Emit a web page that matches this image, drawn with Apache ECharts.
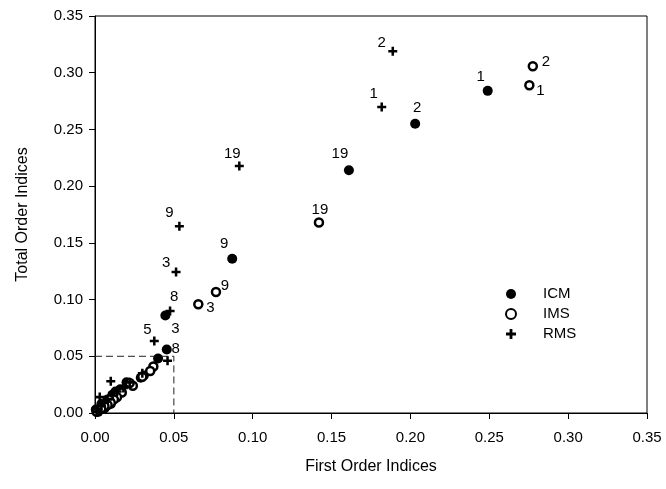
<!DOCTYPE html>
<html>
<head>
<meta charset="utf-8">
<script src="https://cdn.jsdelivr.net/npm/echarts@6/dist/echarts.min.js"></script>
<style>
  html, body { margin: 0; padding: 0; background: #fff; }
  #chart { width: 666px; height: 489px; }
</style>
</head>
<body>
<div id="chart"></div>
<script>
// Sensitivity indices per parameter: first order (x) vs total order (y).
// Parameter ids are given for the labelled points; '' for unlabelled ones.
const icmFirst = [0.249, 0.203, 0.0446, 0.0455, 0.087, 0.161, 0.040, 0.031, 0.029, 0.020, 0.016, 0.013, 0.011, 0.010, 0.008, 0.006, 0.004, 0.002, 0.0005];
const icmTotal = [0.284, 0.255, 0.086, 0.056, 0.136, 0.214, 0.048, 0.033, 0.031, 0.027, 0.021, 0.019, 0.016, 0.008, 0.012, 0.004, 0.008, 0.001, 0.003];
const icmIds   = ['1', '2', '3', '8', '9', '19', '', '', '', '', '', '', '', '', '', '', '', '', ''];

const imsFirst = [0.2754, 0.2776, 0.0655, 0.0767, 0.142, 0.037, 0.035, 0.030, 0.024, 0.022, 0.017, 0.014, 0.012, 0.009, 0.010, 0.008, 0.006, 0.004, 0.001];
const imsTotal = [0.289, 0.3057, 0.0959, 0.1067, 0.168, 0.041, 0.037, 0.032, 0.024, 0.0265, 0.018, 0.014, 0.012, 0.012, 0.009, 0.007, 0.006, 0.004, 0.001];
const imsIds   = ['1', '2', '3', '9', '19', '', '', '', '', '', '', '', '', '', '', '', '', '', ''];

const rmsFirst = [0.1818, 0.1888, 0.0514, 0.0376, 0.0476, 0.0535, 0.0915, 0.046, 0.030, 0.010, 0.003, 0.022, 0.014, 0.018, 0.008, 0.006, 0.004, 0.002, 0.001];
const rmsTotal = [0.2698, 0.319, 0.1243, 0.0635, 0.0899, 0.1646, 0.2178, 0.046, 0.035, 0.028, 0.014, 0.027, 0.019, 0.022, 0.012, 0.009, 0.006, 0.003, 0.001];
const rmsIds   = ['1', '2', '3', '5', '8', '9', '19', '', '', '', '', '', '', '', '', '', '', '', ''];

const seriesNames = ['ICM', 'IMS', 'RMS'];
const xTicks = ['0.00', '0.05', '0.10', '0.15', '0.20', '0.25', '0.30', '0.35'];
const yTicks = ['0.00', '0.05', '0.10', '0.15', '0.20', '0.25', '0.30', '0.35'];
const zoomBox = 0.05; // extent of the dashed inset square

// Pixel offset of each point label from its marker centre.
const labelOffsets = {
  'ICM-1': [-7, -14], 'ICM-2': [2, -16], 'ICM-3': [10, 13], 'ICM-8': [9, -1],
  'ICM-9': [-8, -15], 'ICM-19': [-9, -16],
  'IMS-1': [11, 6], 'IMS-2': [13, -4], 'IMS-3': [12, 4], 'IMS-9': [9, -6],
  'IMS-19': [1, -13],
  'RMS-1': [-8, -13], 'RMS-2': [-11, -8], 'RMS-3': [-10, -9], 'RMS-5': [-7, -11],
  'RMS-8': [4, -14], 'RMS-9': [-10, -13], 'RMS-19': [-7, -12]
};

const FONT = 'Liberation Sans, Arial, sans-serif';
const PLUS = 'path://M3.6,0H6.4V3.6H10V6.4H6.4V10H3.6V6.4H0V3.6H3.6Z';

function buildData(name, xs, ys, ids) {
  return xs.map((x, i) => {
    const id = ids[i];
    const item = { value: [x, ys[i]] };
    if (id) {
      item.label = {
        show: true,
        formatter: id,
        position: 'inside',
        offset: labelOffsets[name + '-' + id] || [0, -12],
        color: '#000',
        textBorderWidth: 0,
        fontFamily: FONT,
        fontSize: 15
      };
    }
    return item;
  });
}

const chart = echarts.init(document.getElementById('chart'), null, { renderer: 'canvas' });

const axisCommon = {
  type: 'value',
  min: 0,
  max: 0.35,
  interval: 0.05,
  splitLine: { show: false },
  axisLine: { show: true, lineStyle: { color: '#000', width: 1 } },
  axisTick: { show: true, inside: false, length: 6, lineStyle: { color: '#000', width: 1 } },
  nameLocation: 'middle',
  nameTextStyle: { color: '#000', fontFamily: FONT, fontSize: 16 }
};

chart.setOption({
  animation: false,
  backgroundColor: '#fff',
  textStyle: { fontFamily: FONT },
  grid: {
    left: 95, right: 19, top: 16, bottom: 76,
    show: true, borderColor: '#000', borderWidth: 1, backgroundColor: 'transparent'
  },
  xAxis: Object.assign({}, axisCommon, {
    name: 'First Order Indices',
    nameGap: 46,
    axisLabel: {
      margin: 17, color: '#000', fontFamily: FONT, fontSize: 15,
      formatter: (v) => xTicks[Math.round(v / 0.05)]
    }
  }),
  yAxis: Object.assign({}, axisCommon, {
    name: 'Total Order Indices',
    nameGap: 64,
    nameRotate: 90,
    axisLabel: {
      margin: 12, color: '#000', fontFamily: FONT, fontSize: 15,
      formatter: (v) => yTicks[Math.round(v / 0.05)]
    }
  }),
  legend: {
    orient: 'vertical',
    left: 500,
    top: 279,
    itemWidth: 54,
    itemHeight: 10,
    itemGap: 0,
    data: seriesNames,
    textStyle: { color: '#000', fontFamily: FONT, fontSize: 15, lineHeight: 20 }
  },
  series: [
    {
      name: 'ICM',
      type: 'scatter',
      symbol: 'circle',
      symbolSize: 10,
      itemStyle: { color: '#000', opacity: 1 },
      z: 3,
      data: buildData('ICM', icmFirst, icmTotal, icmIds)
    },
    {
      name: 'IMS',
      type: 'scatter',
      symbol: 'circle',
      symbolSize: 8,
      itemStyle: { color: '#fff', borderColor: '#000', borderWidth: 2.5, opacity: 1 },
      z: 4,
      data: buildData('IMS', imsFirst, imsTotal, imsIds)
    },
    {
      name: 'RMS',
      type: 'scatter',
      symbol: PLUS,
      symbolSize: 9,
      itemStyle: { color: '#000', opacity: 1 },
      z: 5,
      data: buildData('RMS', rmsFirst, rmsTotal, rmsIds)
    },
    {
      // dashed inset square marking the low-value region
      name: 'inset',
      type: 'line',
      silent: true,
      symbol: 'none',
      z: 2,
      lineStyle: { color: '#222', width: 1, type: [7, 4] },
      data: [[0, zoomBox], [zoomBox, zoomBox], [zoomBox, 0]]
    }
  ]
});
</script>
</body>
</html>
